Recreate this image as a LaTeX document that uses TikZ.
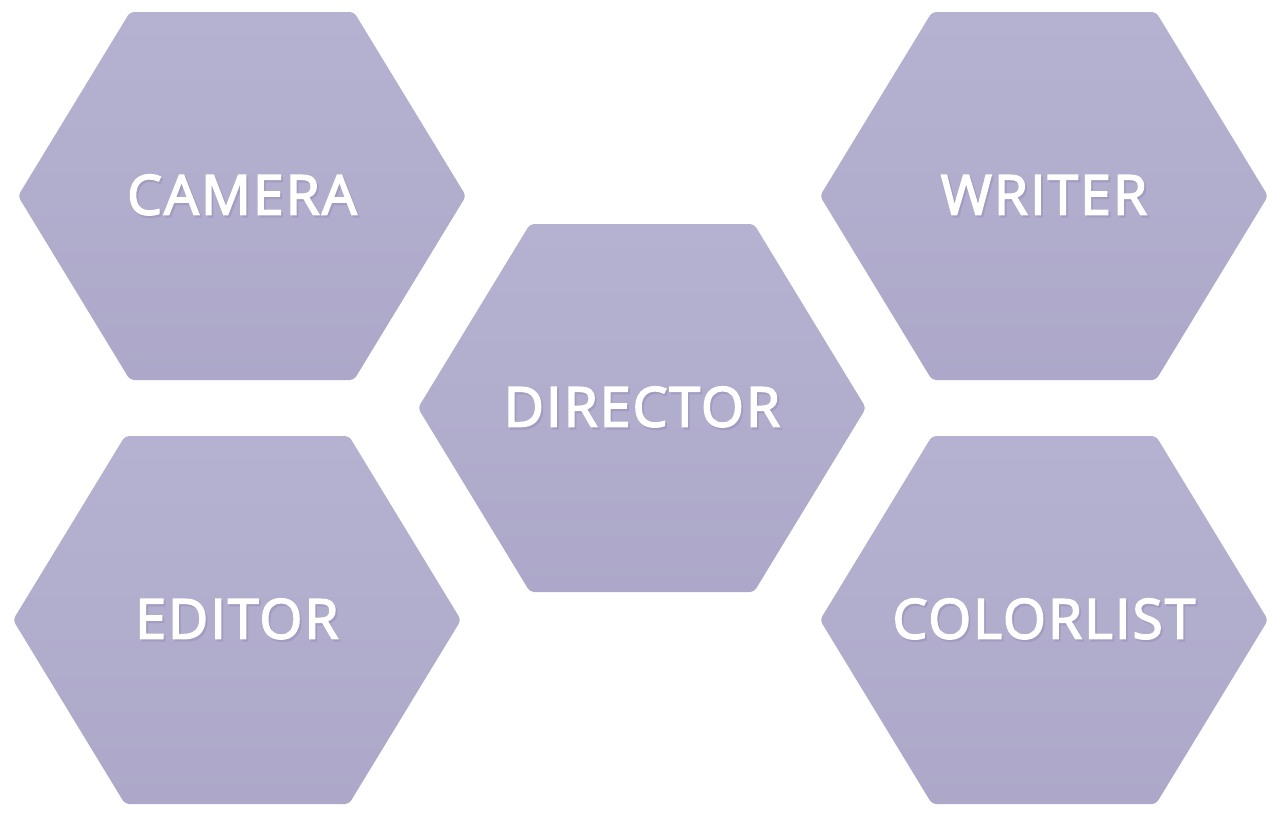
\documentclass[tikz,border=0pt]{standalone}
\usepackage{fontspec}
\setmainfont{Open Sans}
\newfontfamily\hexfont[LetterSpace=4, FakeBold=3]{Open Sans}
\usepackage{tikz}
\definecolor{hextop}{HTML}{B5B2D1}
\definecolor{hexbottom}{HTML}{ADA8C9}
\definecolor{hexshade}{HTML}{A29CC0}
\tikzset{
    hexfill/.style={top color=hextop, bottom color=hexbottom, rounded corners=4pt},
    hexlabel/.style={text=white, font=\fontsize{55}{62}\hexfont, inner sep=0pt}
}
\newcommand\shadowed[1]{\makebox[0pt][l]{\hspace{1.8pt}\raisebox{-2.2pt}{\textcolor{hexshade}{#1}}}#1}
\newcommand\hexshape[2]{\path[hexfill, shift={(#1,#2)}] (-224,0) -- (-112,-184) -- (112,-184) -- (224,0) -- (112,184) -- (-112,184) -- cycle;}
\newcommand\hexcell[4]{\hexshape{#2}{#3}
    \node[hexlabel] (#1) at (#2,#3) {\shadowed{#4}};}

\begin{document}
\begin{tikzpicture}[x=1pt, y=-1pt]
                \useasboundingbox (0,0) rectangle (1280,820);

                % Левый столбец
                \hexcell{camera}{242}{196}{CAMERA}
                \hexcell{editor}{237}{620}{EDITOR}

                % Центр
                \hexcell{director}{642}{408}{DIRECTOR}

                % Правый столбец
                \hexcell{writer}{1044}{196}{WRITER}
                \hexcell{colorlist}{1044}{620}{COLORLIST}
            \end{tikzpicture}
\end{document}
